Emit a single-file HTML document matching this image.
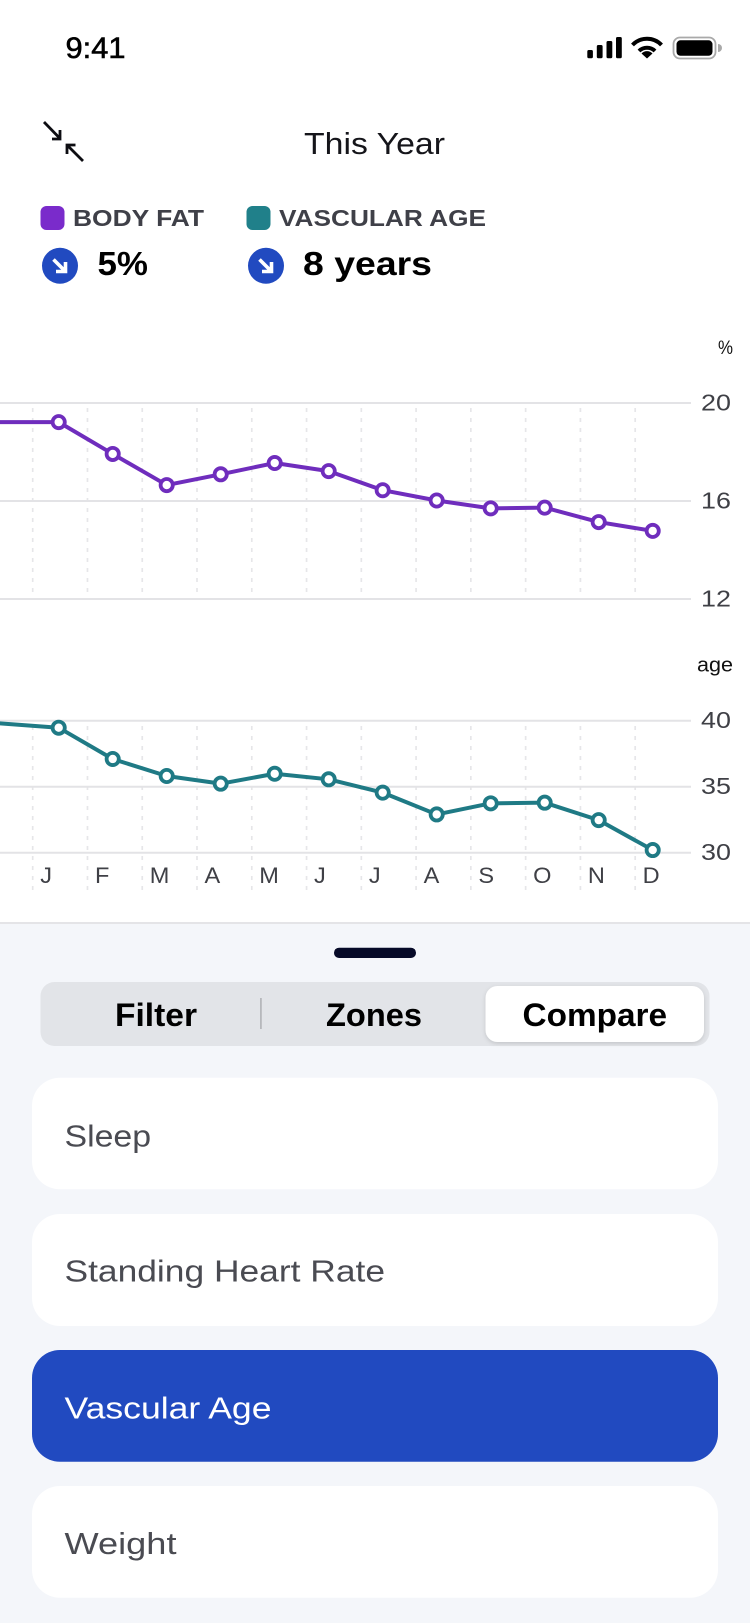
<!DOCTYPE html>
<html lang="en">
<head>
<meta charset="utf-8">
<title>This Year – Body Fat vs Vascular Age</title>
<style>
  html, body { margin: 0; padding: 0; background: #fff; }
  body { width: 750px; height: 1623px; overflow: hidden; }
  svg { display: block; font-family: "Liberation Sans", sans-serif; }
</style>
</head>
<body>
<svg id="page" width="750" height="1623" viewBox="0 0 750 1623" xmlns="http://www.w3.org/2000/svg">
  <defs>
    <filter id="segShadow" x="-10%" y="-20%" width="120%" height="150%">
      <feDropShadow dx="0" dy="1.5" stdDeviation="2" flood-color="#000" flood-opacity="0.14"/>
    </filter>
  </defs>
  <rect width="750" height="1623" fill="#ffffff"/>

  <!-- status bar -->
  <g>
    <text x="65.5" y="58" font-size="30" fill="#000" stroke="#000" stroke-width="0.6" textLength="60" lengthAdjust="spacingAndGlyphs">9:41</text>
    <g fill="#000">
      <rect x="587.3" y="50" width="5.6" height="8.3" rx="1.5"/>
      <rect x="596.8" y="45" width="5.8" height="13.3" rx="1.5"/>
      <rect x="606.5" y="41" width="5.8" height="17.3" rx="1.5"/>
      <rect x="616" y="37" width="5.8" height="21.3" rx="1.5"/>
    </g>
    <g fill="none" stroke="#000" stroke-width="4">
      <path d="M632.5 45 A20 20 0 0 1 661.5 45"/>
      <path d="M639 51 A11.5 11.5 0 0 1 655 51"/>
      <path d="M647 58.5 L641.5 53.5 A7.5 7.5 0 0 1 652.5 53.5 Z" fill="#000" stroke="none"/>
    </g>
    <g>
      <rect x="673.5" y="37.5" width="42" height="21" rx="6.5" fill="none" stroke="#a9a9a9" stroke-width="1.8"/>
      <rect x="676.5" y="40.3" width="36" height="15.5" rx="4" fill="#000"/>
      <path d="M718 44 a4 4 0 0 1 0 8 z" fill="#a9a9a9"/>
    </g>
  </g>

  <!-- header -->
  <g fill="none" stroke="#0d0d12" stroke-width="2.8">
    <path d="M44 122 L60 138.5 M60 130 V139 H52"/>
    <path d="M83 161 L67 145 M67 154 V145 H75.5"/>
  </g>
  <text x="304" y="154" font-size="31" textLength="141" lengthAdjust="spacingAndGlyphs" fill="#15151a">This Year</text>

  <!-- legend -->
  <g>
    <rect x="40.5" y="206" width="24" height="24" rx="6" fill="#7a2bcb"/>
    <text x="73" y="226" font-size="23" font-weight="bold" textLength="131" lengthAdjust="spacingAndGlyphs" fill="#3f4048">BODY FAT</text>
    <circle cx="60" cy="265.8" r="18" fill="#214ac0"/>
    <path d="M53.5 259.5 L65 271 M65.5 262 V271.5 H56" fill="none" stroke="#fff" stroke-width="3.6"/>
    <text x="97.5" y="275" font-size="33" font-weight="bold" textLength="50.5" lengthAdjust="spacingAndGlyphs" fill="#000">5%</text>
  </g>
  <g>
    <rect x="246.5" y="206" width="24" height="24" rx="6" fill="#20808a"/>
    <text x="279" y="226" font-size="23" font-weight="bold" textLength="207" lengthAdjust="spacingAndGlyphs" fill="#3f4048">VASCULAR AGE</text>
    <circle cx="266" cy="265.8" r="18" fill="#214ac0"/>
    <path d="M259.5 259.5 L271 271 M271.5 262 V271.5 H262" fill="none" stroke="#fff" stroke-width="3.6"/>
    <text x="303" y="275" font-size="33" font-weight="bold" textLength="129" lengthAdjust="spacingAndGlyphs" fill="#000">8 years</text>
  </g>

  <!-- charts (filled by script) -->
  <g id="fatChart"></g>
  <g id="ageChart"></g>
  <g id="monthAxis"></g>
  <text x="718" y="354" font-size="19" textLength="15" lengthAdjust="spacingAndGlyphs" fill="#111">%</text>
  <text x="697" y="671.5" font-size="20.5" textLength="36" lengthAdjust="spacingAndGlyphs" fill="#111">age</text>

  <!-- bottom sheet -->
  <g>
    <rect x="0" y="923" width="750" height="700" fill="#f4f6fa"/>
    <rect x="0" y="922" width="750" height="2" fill="#e4e4e7"/>
    <rect x="334" y="947.7" width="82" height="10.3" rx="5" fill="#060a28"/>

    <g>
      <rect x="40.5" y="982" width="669" height="64" rx="14" fill="#e2e4e8"/>
      <rect x="260" y="998" width="1.8" height="31" fill="#b6b8bc"/>
      <rect x="485.5" y="986" width="218.5" height="56" rx="12" fill="#fff" filter="url(#segShadow)"/>
      <text x="115" y="1026" font-size="32" font-weight="bold" textLength="82" lengthAdjust="spacingAndGlyphs" fill="#000">Filter</text>
      <text x="326" y="1026" font-size="32" font-weight="bold" textLength="96" lengthAdjust="spacingAndGlyphs" fill="#000">Zones</text>
      <text x="522.5" y="1026" font-size="32" font-weight="bold" textLength="144.5" lengthAdjust="spacingAndGlyphs" fill="#000">Compare</text>
    </g>

    <g>
      <rect x="32" y="1077.7" width="686" height="111.6" rx="28" fill="#fff"/>
      <text x="64.5" y="1146.7" font-size="31" textLength="86.6" lengthAdjust="spacingAndGlyphs" fill="#4a4b52">Sleep</text>
    </g>
    <g>
      <rect x="32" y="1214" width="686" height="112" rx="28" fill="#fff"/>
      <text x="64.5" y="1281.7" font-size="31" textLength="320.5" lengthAdjust="spacingAndGlyphs" fill="#4a4b52">Standing Heart Rate</text>
    </g>
    <g>
      <rect x="32" y="1350" width="686" height="111.7" rx="28" fill="#214ac0"/>
      <text x="64.5" y="1418.3" font-size="31" textLength="207" lengthAdjust="spacingAndGlyphs" fill="#fff">Vascular Age</text>
    </g>
    <g>
      <rect x="32" y="1486" width="686" height="111.7" rx="28" fill="#fff"/>
      <text x="64.5" y="1554" font-size="31" textLength="112" lengthAdjust="spacingAndGlyphs" fill="#4a4b52">Weight</text>
    </g>
  </g>
</svg>

<script>
// Chart data (first value of each series is the previous December, running off the left edge)
var monthLabels = ['J', 'F', 'M', 'A', 'M', 'J', 'J', 'A', 'S', 'O', 'N', 'D'];
var bodyFatValues = [19.22, 19.22, 17.92, 16.65, 17.09, 17.55, 17.22, 16.44, 16.02, 15.70, 15.73, 15.14, 14.78];
var vascularAgeValues = [39.82, 39.47, 37.10, 35.81, 35.23, 35.98, 35.56, 34.55, 32.90, 33.74, 33.79, 32.47, 30.20];
var bodyFatTicks = [20, 16, 12];
var vascularAgeTicks = [40, 35, 30];

var NS = 'http://www.w3.org/2000/svg';

function make(parent, tag, attrs) {
  var el = document.createElementNS(NS, tag);
  for (var k in attrs) el.setAttribute(k, attrs[k]);
  parent.appendChild(el);
  return el;
}

// axis functions
function xPoint(i) { return i === 0 ? -4 : 4.7 + 54 * i; }
function xBand(i) { return 32.7 + 54.77 * i; }
function yFat(v) { return 403 + (20 - v) * 24.5; }
function yAge(v) { return 720.7 + (40 - v) * 13.2; }

function drawChart(root, values, ticks, yScale, color, bandTop, bandBottom, prefix) {
  var i;
  for (i = 0; i < monthLabels.length; i++) {
    var band = make(root, 'line', { x1: xBand(i), x2: xBand(i), y1: bandTop, y2: bandBottom, stroke: '#e6e6e9', 'stroke-width': 1.7, 'stroke-dasharray': '4 6' });
    
    
  }
  ticks.forEach(function (t) {
    var grid = make(root, 'line', { x1: 0, x2: 691, y1: yScale(t), y2: yScale(t), stroke: '#e3e3e6', 'stroke-width': 2 });
    
    
    var label = make(root, 'text', { transform: 'translate(701,' + (yScale(t) + 7.5) + ') scale(1.17,1)', 'font-size': 23, fill: '#3f4046' });
    label.textContent = t;
    
    
  });
  var pts = values.map(function (v, idx) { return xPoint(idx) + ',' + yScale(v); }).join(' ');
  var line = make(root, 'polyline', { points: pts, fill: 'none', stroke: color, 'stroke-width': 4, 'stroke-linejoin': 'round' });
  
  
  for (i = 1; i < values.length; i++) {
    var dot = make(root, 'circle', { cx: xPoint(i), cy: yScale(values[i]), r: 6.1, fill: '#fff', stroke: color, 'stroke-width': 3.8 });
    
    
  }
}

drawChart(document.getElementById('fatChart'), bodyFatValues, bodyFatTicks, yFat, '#6f2dbd', 408, 594, 'body-fat');
drawChart(document.getElementById('ageChart'), vascularAgeValues, vascularAgeTicks, yAge, '#1f7a85', 726, 892, 'vascular-age');

var monthAxis = document.getElementById('monthAxis');
monthLabels.forEach(function (m, i) {
  var label = make(monthAxis, 'text', { transform: 'translate(' + (xBand(i) + 7.5) + ',883) scale(1.07,1)', 'font-size': 22, fill: '#3f4046' });
  label.textContent = m;
  
  
});
</script>
</body>
</html>
